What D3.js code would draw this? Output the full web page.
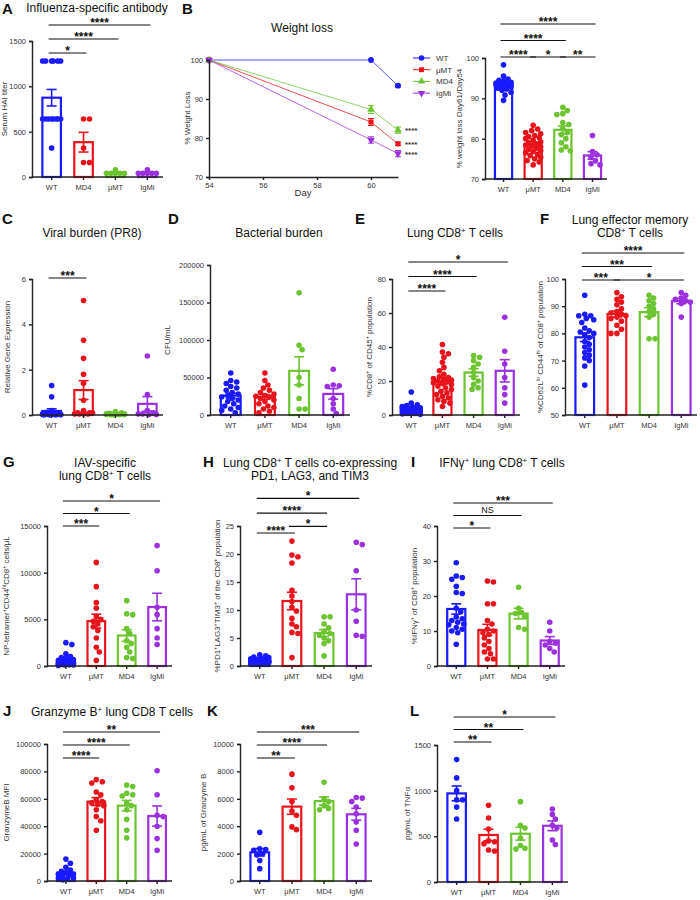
<!DOCTYPE html>
<html>
<head>
<meta charset="utf-8">
<title>B cell deficiency panels</title>
<style>
  html, body { margin: 0; padding: 0; background: #fff; }
  svg { display: block; font-family: "Liberation Sans", Arial, sans-serif; }
  .axis path, .axis line { stroke: #222; stroke-width: 1.4; }
  .axis text { font-size: 7.5px; fill: #333; }
</style>
</head>
<body>
<svg id="fig" width="700" height="900"></svg>
<script src="https://d3js.org/d3.v7.min.js"></script>
<script>
// ---------- data ----------
const groupsA = ["WT", "MD4", "μMT", "IgMi"];
const groups = ["WT", "μMT", "MD4", "IgMi"];
const colors = ["#1a1aff", "#e8141c", "#6cc431", "#9b30e0"];

const hai = [
  [1280,1280,1280,1280,1280,1280,640,640,640,640,640,640,640,640,320],
  [640,640,320,160,160],
  [40,40,40,40,80,40],
  [40,40,40,80,40,40]
];
const weightDays = [54, 60, 61];
const weightMean = {
  WT:   [100, 100, 93.4],
  "μMT": [100, 84.1, 78.5],
  MD4:  [100, 87.3, 82.0],
  IgMi: [100, 79.5, 76.0]
};
const weightSem = { WT: [0, 0, 0.3], "μMT": [0, 0.9, 0.4], MD4: [0, 1.0, 0.8], IgMi: [0, 0.8, 0.8] };
const weightRatio = [
  [98.3,95.5,94.8,94.5,94.2,94,93.8,93.6,93.5,93.4,93.3,93.2,93,92.8,92.5,92.3,92,91.5,90.8,89.5],
  [83.3,82.4,82,81.5,81.2,80.8,80.5,80.2,80,79.6,79.2,79,78.7,78.4,78.2,78,77.6,77.3,77,76.8,76.5,76.1,75.8,75.4,75,74.6,74.2,73.5],
  [87.8,87,86.2,86,84,83.5,82.5,81.5,81,80,79,78,77,77.2],
  [80.8,76.8,76,75.5,74.5,73.8,73.5]
];
const viral = [
  [1.3,0.8,0.2,0.1,0.05,0.05,0.03,0.03,0.02,0.02,0.02,0.01,0.01,0.01,0.01],
  [5.05,3.3,2.5,1.8,1.4,0.65,0.2,0.1,0.1,0.1,0.05,0.05,0.05,0.05],
  [0.15,0.1,0.08,0.05,0.05,0.03,0.03,0.02,0.02,0.02,0.01,0.01],
  [2.6,0.9,0.2,0.1,0.05,0.02,0.02,0.05]
];
const bacterial = [
  [56000,46000,44000,42000,38000,36000,33000,30000,28000,26000,24000,22000,20000,18000,15000,12000,10000,8000,6000,3000],
  [56000,46000,40000,36000,33000,30000,28000,26000,25000,24000,22000,20000,18000,15000,12000,10000,8000,5000,3000],
  [163000,93000,87000,50000,40000,22000,8000,8000],
  [61000,40000,39000,38000,22000,15000,8000,2000]
];
const cd8 = [
  [13.5,7,6,5.5,5,4.5,4.2,4,3.8,3.5,3.3,3,3,2.8,2.5,2.3,2,2,1.8,1.5,1.2,1,1,0.8,0.5],
  [41.5,37,36,34,31,28,26,24,22.5,22,21.5,21,20.5,20,19.5,19,18.5,18,17,16,15,14,13,12,11,10,9,8,7,5],
  [35,34,32,30,28,25,22,20,18,16,15],
  [57.5,37.5,30,22,16,12,7]
];
const effMem = [
  [94,87,86.5,86.5,85.5,85,84,82,81,80.5,80,79.5,78.5,77,76,75,74,73,72,71,70,68,61],
  [95,93.5,92.5,91.5,90.5,89,88,87.5,87,86.5,86,85.5,84.5,83,81.5,80,80],
  [94,93,92,91,90,89,88,87,86,78,78],
  [95,94,93,92.5,92,91.5,91,86]
];
const tetramer = [
  [2500,2300,1300,1000,900,800,700,600,500,400,400,300,300,250,200,200,150,100,100,50],
  [11100,8500,6800,6200,5300,5000,4800,4500,4200,3800,3000,2000,1500,600],
  [7000,5600,5500,4000,3500,2700,2400,2000,1500,900,800],
  [12900,10200,6300,5500,4000,3000,2300]
];
const triple = [
  [2,1.8,1.6,1.5,1.4,1.3,1.2,1.1,1,1,0.9,0.9,0.8,0.8,0.7,0.7,0.6,0.6,0.5,0.5,0.4,0.3],
  [22.3,19.8,19.5,18.4,13.5,12.5,11.5,10.5,9.8,8.5,7.5,7,6,5.8,1.5],
  [8.8,8.8,7.5,6.8,6.2,5.8,5.5,5,4.5,4,1.8],
  [22.1,21.7,17,10,8,5.5,5.3]
];
const ifng = [
  [29.5,25.7,25.3,24.8,22.8,21,20.7,16.5,15.5,14,13.5,13,12.5,12,11.8,11,10.5,10,9.5,6.2],
  [24.3,24,17.8,17.8,13,12,10.5,10,9.5,9,8,7,6,5,4,3.5,2,2],
  [22.5,16.5,15.3,15,14,10.5,11],
  [12.5,10,7,6.5,6,5,4]
];
const gzmbMfi = [
  [16000,13000,10000,8000,7000,6000,5000,5000,4000,3000,2000,2000,1500,1000],
  [74000,72500,71500,65000,63000,59500,58000,57000,56000,55000,52000,47000,44000,37000],
  [70000,69000,64000,63000,62000,57000,55000,52000,45000,37000,31500],
  [80500,63000,48000,47000,40000,31000,22500]
];
const gzmb = [
  [3550,2350,2300,2250,2000,1900,1500,900],
  [7800,6800,5800,5100,4800,3950,3750],
  [7200,6000,5800,5500,5300,5200],
  [6100,6050,5800,5400,4900,4300,3700,2700]
];
const tnfa = [
  [1340,1140,1000,900,820,900,690],
  [840,700,580,450,420,340,350,440],
  [880,620,590,480,400,370,360],
  [800,740,690,620,590,460,410]
];

// ---------- panels (layout) ----------
const panels = [
  { data: hai, cats: groupsA, dom: [0,1500], ticks: [0,500,1000,1500], x0: 32, w: 131, top: 41, bot: 177,
    ylab: "Serum HAI titer", lo: 25, sig: [[0,1,"*",0],[0,2,"****",1],[0,3,"****",2]], sb: 53, ss: 14 },
  { data: weightRatio, cats: groups, dom: [70,100], ticks: [70,80,90,100], x0: 485, w: 122, top: 58, bot: 179,
    ylab: "% weight loss Day61/Day54", lo: 23, sig: [[0,1,"****",0],[1,2,"*",0],[2,3,"**",0],[0,2,"****",1],[0,3,"****",2]], sb: 57, ss: 16.5 },
  { data: viral, cats: groups, dom: [0,6], ticks: [0,2,4,6], x0: 32, w: 131, top: 279, bot: 415,
    ylab: "Relative Gene Expression", lo: 22, sig: [[0,1,"***",0]], sb: 278, ss: 14 },
  { data: bacterial, cats: groups, dom: [0,200000], ticks: [0,50000,100000,150000,200000], x0: 210, w: 140, top: 265, bot: 415,
    ylab: "CFU/mL", lo: 40, sig: [], sb: 0, ss: 0 },
  { data: cd8, cats: groups, dom: [0,80], ticks: [0,20,40,60,80], x0: 392, w: 128, top: 279, bot: 415,
    ylab: "%CD8^{+} of CD45^{+} population", lo: 20, sig: [[0,1,"****",0],[0,2,"****",1],[0,3,"*",2]], sb: 291, ss: 14.5 },
  { data: effMem, cats: groups, dom: [50,100], ticks: [50,60,70,80,90,100], x0: 565, w: 132, top: 279, bot: 415,
    ylab: "%CD62L^{lo} CD44^{hi} of CD8^{+} population", lo: 22, sig: [[0,1,"***",0],[1,3,"*",0],[0,2,"***",1],[0,3,"****",2]], sb: 280, ss: 13.5 },
  { data: tetramer, cats: groups, dom: [0,15000], ticks: [0,5000,10000,15000], x0: 47, w: 125, top: 526, bot: 666,
    ylab: "NP-tetramer^{+}CD44^{hi}CD8^{+} cells/μL", lo: 38, sig: [[0,1,"***",0],[0,2,"*",1],[0,3,"*",2]], sb: 526, ss: 12.5 },
  { data: triple, cats: groups, dom: [0,25], ticks: [0,5,10,15,20,25], x0: 240, w: 132, top: 526, bot: 666,
    ylab: "%PD1^{+}LAG3^{+}TIM3^{+} of the CD8^{+} population", lo: 20, sig: [[0,1,"****",0],[1,2,"*",0.4],[0,2,"****",1.2],[0,3,"*",2.1]], sb: 533, ss: 16.5 },
  { data: ifng, cats: groups, dom: [0,40], ticks: [0,10,20,30,40], x0: 437, w: 128, top: 526, bot: 666,
    ylab: "%IFNγ^{+} of CD8^{+} population", lo: 20, sig: [[0,1,"*",0],[0,2,"NS",1],[0,3,"***",2]], sb: 528, ss: 12.5 },
  { data: gzmbMfi, cats: groups, dom: [0,100000], ticks: [0,20000,40000,60000,80000,100000], x0: 47, w: 125, top: 744, bot: 881,
    ylab: "GranzymeB MFI", lo: 38, sig: [[0,1,"****",0],[0,2,"****",1],[0,3,"**",2]], sb: 758, ss: 13 },
  { data: gzmb, cats: groups, dom: [0,10000], ticks: [0,2000,4000,6000,8000,10000], x0: 240, w: 132, top: 744, bot: 881,
    ylab: "pg/mL of Granzyme B", lo: 34, sig: [[0,1,"**",0],[0,2,"****",1],[0,3,"***",2]], sb: 758, ss: 13 },
  { data: tnfa, cats: groups, dom: [0,1500], ticks: [0,500,1000,1500], x0: 437, w: 131, top: 745, bot: 882,
    ylab: "pg/mL of TNFα", lo: 27, sig: [[0,1,"**",0],[0,2,"**",1],[0,3,"*",2]], sb: 742, ss: 12.5 }
];

const letters = [["A",2,14],["B",182,14],["C",2,224],["D",168,224],["E",355,224],["F",540,224],
                 ["G",3,467],["H",203,467],["I",411,467],["J",3,716],["K",207,716],["L",410,716]];
const titles = [
  [["Influenza-specific antibody"],97,12],
  [["Weight loss"],302,32],
  [["Viral burden (PR8)"],92,237],
  [["Bacterial burden"],279,237],
  [["Lung CD8^{+} T cells"],455,237],
  [["Lung effector memory","CD8^{+} T cells"],630,224],
  [["IAV-specific","lung CD8^{+} T cells"],105,467],
  [["Lung CD8^{+} T cells co-expressing","PD1, LAG3, and TIM3"],310,467],
  [["IFNγ^{+} lung CD8^{+} T cells"],502,467],
  [["Granzyme B^{+} lung CD8 T cells"],112,716]
];

const svg = d3.select("#fig");

// text with ^{...} superscripts
function rich(sel, str) {
  str.split(/(\^\{[^}]*\})/).forEach(part => {
    if (!part) return;
    const m = part.match(/^\^\{(.*)\}$/);
    if (m) sel.append("tspan").attr("baseline-shift", "super").attr("font-size", "65%").text(m[1]);
    else sel.append("tspan").text(part);
  });
}

letters.forEach(([t, x, y]) => svg.append("text").attr("x", x).attr("y", y)
  .attr("font-size", 15).attr("font-weight", "bold").attr("fill", "#111").text(t));
titles.forEach(([lines, x, y]) => lines.forEach((l, i) => {
  const t = svg.append("text").attr("x", x).attr("y", y + i * 13).attr("text-anchor", "middle")
    .attr("font-size", 12).attr("fill", "#111");
  rich(t, l);
}));

const mean = a => d3.mean(a);
const sem = a => d3.deviation(a) / Math.sqrt(a.length);

// beeswarm offsets, kept inside the bar
function swarm(vals, y, r, maxDx) {
  const placed = [];
  const idx = vals.map((v, i) => i).sort((a, b) => vals[b] - vals[a]);
  const out = new Array(vals.length);
  const cands = [];
  for (let k = 0; k * 1.5 <= maxDx * 2 + 0.1; k++) cands.push((k % 2 ? 1 : -1) * Math.ceil(k / 2) * 1.5);
  idx.forEach((i, n) => {
    const py = y(vals[i]);
    let best = null, bestOv = Infinity;
    for (const c of cands) {
      if (Math.abs(c) > maxDx) continue;
      const ov = d3.sum(placed, p => Math.max(0, (2 * r - 0.5) - Math.hypot(p[0] - c, p[1] - py)));
      if (ov === 0) { best = c; break; }
      if (ov < bestOv) { bestOv = ov; best = c; }
    }
    placed.push([best, py]);
    out[i] = best;
  });
  return out;
}

function barPanel(p) {
  const g = svg.append("g");
  const y = d3.scaleLinear().domain(p.dom).range([p.bot, p.top]);
  const x = d3.scaleBand().domain(p.cats).range([p.x0 + 4, p.x0 + p.w]).paddingInner(0.42).paddingOuter(0.2);
  const bw = x.bandwidth();

  p.data.forEach((vals, i) => {
    const c = colors[i], cx = x(p.cats[i]) + bw / 2;
    const m = mean(vals), s = sem(vals);
    g.append("rect").attr("x", x(p.cats[i])).attr("y", y(m)).attr("width", bw)
      .attr("height", y(p.dom[0]) - y(m)).attr("fill", "#fff").attr("stroke", c).attr("stroke-width", 2.2);
    const offs = swarm(vals, y, 2.8, bw / 2);
    g.selectAll(null).data(vals).enter().append("circle")
      .attr("cx", (d, k) => cx + offs[k]).attr("cy", d => y(d)).attr("r", 2.8).attr("fill", c);
    const eb = g.append("g").attr("stroke", c).attr("stroke-width", 1.6);
    eb.append("line").attr("x1", cx).attr("x2", cx).attr("y1", y(m - s)).attr("y2", y(m + s));
    [m - s, m + s].forEach(v => eb.append("line").attr("x1", cx - 5).attr("x2", cx + 5).attr("y1", y(v)).attr("y2", y(v)));
  });

  g.append("g").attr("class", "axis").attr("transform", `translate(${p.x0},0)`)
    .call(d3.axisLeft(y).tickValues(p.ticks).tickSize(3).tickFormat(d3.format("d")));
  const xa = g.append("g").attr("class", "axis").attr("transform", `translate(0,${p.bot})`)
    .call(d3.axisBottom(x).tickSize(3).tickSizeOuter(0));
  xa.select(".domain").attr("d", `M${p.x0},0H${p.x0 + p.w}`);
  xa.selectAll("text").attr("font-size", 8.5).attr("dy", "0.9em");

  const yl = g.append("text").attr("transform", `translate(${p.x0 - p.lo},${(p.top + p.bot) / 2}) rotate(-90)`)
    .attr("text-anchor", "middle").attr("font-size", 8).attr("fill", "#333");
  rich(yl, p.ylab);

  p.sig.forEach(([a, b, lab, lev]) => {
    const ly = p.sb - lev * p.ss;
    const xa1 = x(p.cats[a]) + bw / 2 - 3, xb = x(p.cats[b]) + bw / 2 + 3;
    g.append("line").attr("x1", xa1).attr("x2", xb).attr("y1", ly).attr("y2", ly).attr("stroke", "#111").attr("stroke-width", 1.2);
    g.append("text").attr("x", (xa1 + xb) / 2).attr("y", lab === "NS" ? ly - 3 : ly + 2)
      .attr("text-anchor", "middle").attr("font-size", lab === "NS" ? 9 : 12).attr("font-weight", lab === "NS" ? "normal" : "bold")
      .attr("fill", "#111").text(lab);
  });
}
panels.forEach(barPanel);

// ---------- weight loss line chart ----------
(function () {
  const g = svg.append("g");
  const x = d3.scaleLinear().domain([54, 61]).range([209, 398]);
  const y = d3.scaleLinear().domain([70, 100]).range([177, 60]);
  const shapes = [d3.symbolCircle, d3.symbolSquare, d3.symbolTriangle, d3.symbolTriangle];
  const names = ["WT", "μMT", "MD4", "IgMi"];
  names.forEach((n, i) => {
    const c = colors[i];
    const pts = weightDays.map((d, k) => [d, weightMean[n][k], weightSem[n][k]]);
    g.append("path").datum(pts).attr("fill", "none").attr("stroke", c).attr("stroke-opacity", 0.75).attr("stroke-width", 1)
      .attr("d", d3.line().x(d => x(d[0])).y(d => y(d[1])));
    pts.forEach(d => {
      if (d[2] > 0) {
        g.append("line").attr("x1", x(d[0])).attr("x2", x(d[0])).attr("y1", y(d[1] - d[2])).attr("y2", y(d[1] + d[2])).attr("stroke", c);
        [d[1] - d[2], d[1] + d[2]].forEach(v => g.append("line").attr("x1", x(d[0]) - 3).attr("x2", x(d[0]) + 3)
          .attr("y1", y(v)).attr("y2", y(v)).attr("stroke", c));
      }
      g.append("path").attr("d", d3.symbol().type(shapes[i]).size(26)())
        .attr("transform", `translate(${x(d[0])},${y(d[1])})${i === 3 ? " rotate(180)" : ""}`).attr("fill", c);
    });
    if (i > 0) g.append("text").attr("x", 405).attr("y", y(weightMean[n][2]) + 3).attr("font-size", 8)
      .attr("font-weight", "bold").attr("fill", "#333").text("****");
    // legend
    const ly = 58 + i * 11.7;
    g.append("line").attr("x1", 413).attr("x2", 430).attr("y1", ly).attr("y2", ly).attr("stroke", c);
    g.append("path").attr("d", d3.symbol().type(shapes[i]).size(24)())
      .attr("transform", `translate(421.5,${ly})${i === 3 ? " rotate(180)" : ""}`).attr("fill", c);
    g.append("text").attr("x", 436).attr("y", ly + 3).attr("font-size", 8).attr("fill", "#333").text(n);
  });
  g.append("g").attr("class", "axis").attr("transform", "translate(209,0)")
    .call(d3.axisLeft(y).tickValues([70, 80, 90, 100]).tickSize(3));
  g.append("g").attr("class", "axis").attr("transform", "translate(0,177)")
    .call(d3.axisBottom(x).tickValues([54, 56, 58, 60]).tickSize(3).tickSizeOuter(0).tickFormat(d3.format("d")));
  g.append("text").attr("x", 303).attr("y", 196).attr("text-anchor", "middle").attr("font-size", 9.5).attr("fill", "#333").text("Day");
  g.append("text").attr("transform", "translate(190,118) rotate(-90)").attr("text-anchor", "middle")
    .attr("font-size", 8).attr("fill", "#333").text("% Weight Loss");
})();
</script>
</body>
</html>
